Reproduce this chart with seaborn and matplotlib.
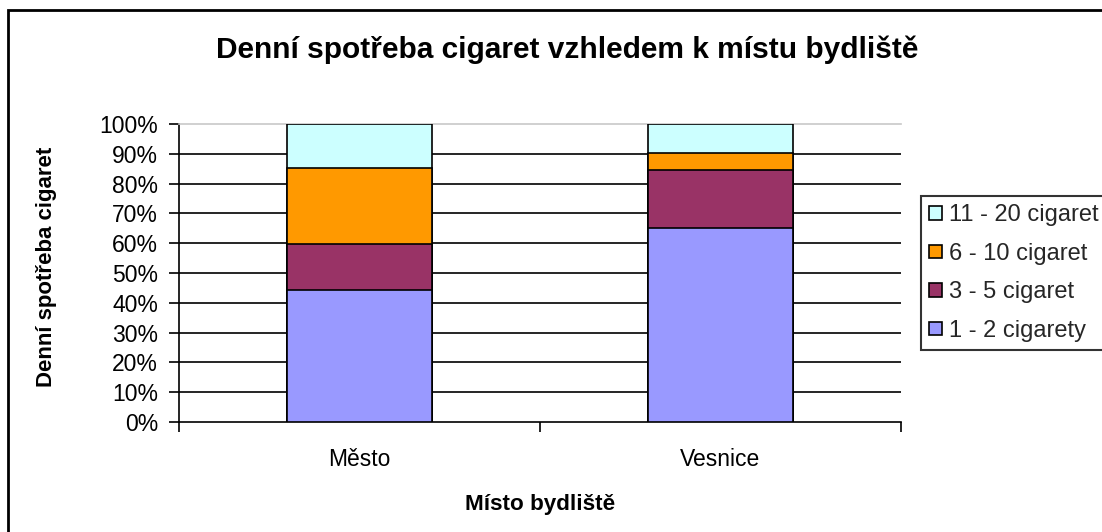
import matplotlib
matplotlib.use("Agg")
import matplotlib.pyplot as plt
from matplotlib.patches import Rectangle, Patch
from matplotlib.ticker import FixedLocator, FuncFormatter
import numpy as np
import pandas as pd
import seaborn as sns

# Share of respondents (%) by place of residence and daily cigarette count
places = ["Město", "Vesnice"]
groups = ["1 - 2 cigarety", "3 - 5 cigaret", "6 - 10 cigaret", "11 - 20 cigaret"]
share_1_2 = [44.3, 65.2]
share_3_5 = [15.5, 19.4]
share_6_10 = [25.5, 5.7]
share_11_20 = [14.7, 9.7]
colors = ["#9999FF", "#993366", "#FF9900", "#CCFFFF"]

title = "Denní spotřeba cigaret vzhledem k místu bydliště"
xlabel = "Místo bydliště"
ylabel = "Denní spotřeba cigaret"

sns.set_theme(style="white")
plt.rcParams["font.family"] = ["Liberation Sans", "DejaVu Sans"]

W, H = 1102, 532
fig = plt.figure(figsize=(W / 100, H / 100), dpi=100)
ax = fig.add_axes([179 / W, 1 - 422 / H, (901 - 179) / W, (422 - 124) / H])

# cumulative tops of each stacked segment
df = pd.DataFrame({"place": places, groups[0]: share_1_2, groups[1]: share_3_5,
                   groups[2]: share_6_10, groups[3]: share_11_20})
cum = df[groups].cumsum(axis=1)

# draw from the tallest cumulative level down so each segment shows
for g, c in zip(groups[::-1], colors[::-1]):
    sns.barplot(x=df["place"], y=cum[g], order=places, color=c, width=0.4,
                edgecolor="black", linewidth=1.2, saturation=1, ax=ax, zorder=3)

ax.set_xlim(-0.5, 1.5)
ax.set_ylim(0, 100)

# gridlines every 10 %
for v in range(10, 100, 10):
    ax.axhline(v, color="black", lw=1.2, zorder=1)

ax.yaxis.set_major_locator(FixedLocator(list(range(0, 101, 10))))
ax.yaxis.set_major_formatter(FuncFormatter(lambda v, p: f"{int(v)}%"))
ax.tick_params(axis="y", which="major", direction="out", length=7, width=1.2,
               color="black", pad=8, labelsize=16.5, left=True, labelcolor="black")

# category labels centred, tick marks at category boundaries
ax.set_xticks([0, 1])
ax.set_xticklabels(places)
ax.set_xticks([-0.5, 0.5, 1.5], minor=True)
ax.tick_params(axis="x", which="major", length=0, pad=19, labelsize=16.5, labelcolor="black")
ax.tick_params(axis="x", which="minor", direction="out", length=7, width=1.2,
               color="black", bottom=True)

for side in ["left", "bottom"]:
    ax.spines[side].set_color("black")
    ax.spines[side].set_linewidth(1.2)
ax.spines["right"].set_visible(False)
ax.spines["top"].set_color("#c8c8c8")
ax.spines["top"].set_linewidth(1.2)

ax.set_xlabel(xlabel, fontsize=16.2, fontweight="bold", labelpad=16, color="black")
ax.set_ylabel("")
fig.text(47 / W, 1 - 267 / H, ylabel, rotation=90, ha="center", va="center",
         fontsize=16, fontweight="bold", color="black")

fig.text(567 / W, 1 - 50 / H, title, ha="center", va="center",
         fontsize=21.5, fontweight="bold", color="black")

handles = [Patch(facecolor=c, edgecolor="black", linewidth=1.2) for c in colors[::-1]]
leg = fig.legend(handles, groups[::-1], loc="upper left",
                 bbox_to_anchor=(921 / W, 1 - 196 / H), bbox_transform=fig.transFigure,
                 fontsize=17, frameon=True, fancybox=False, edgecolor="black",
                 handlelength=0.52, handleheight=0.52, handletextpad=0.3,
                 labelspacing=0.7, borderpad=0.35, borderaxespad=0)
leg.get_frame().set_linewidth(1.5)

# chart frame around the whole figure
fig.patches.append(Rectangle((8 / W, -0.1), 1.2, 1 - 10 / H + 0.1, transform=fig.transFigure,
                             fill=False, edgecolor="black", linewidth=2))

fig.savefig("out.png", dpi=100, facecolor="white")
